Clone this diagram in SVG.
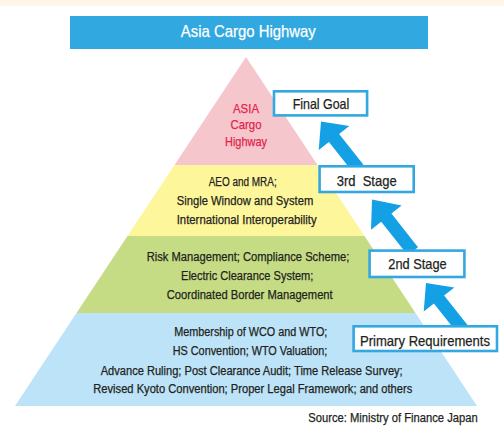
<svg xmlns="http://www.w3.org/2000/svg" width="504" height="432" viewBox="0 0 504 432">
  <style>
    .t { font-family: "Liberation Sans Narrow", "Liberation Sans", Arial, sans-serif; text-anchor: middle; fill: #231f20; stroke: #231f20; stroke-width: 0.25; }
    .band { font-size: 12.5px; }
    .base { font-size: 12px; }
    .goal { font-size: 13px; fill: #e4234b; stroke: #e4234b; }
    .lbl { font-size: 14.5px; }
    .white { fill: #ffffff; stroke: #ffffff; }
    .box { fill: #ffffff; stroke: #33a8e0; stroke-width: 2.6; }
    .arrow { fill: #14a0e4; }
  </style>
  <defs>
    <!-- block arrow pointing up, tip at origin -->
    <polygon id="blockArrow" points="0,0 19.5,21 6.5,21 6.5,60 -6.5,60 -6.5,21 -19.5,21"/>
  </defs>

  <rect x="0" y="0" width="504" height="5.7" fill="#fff5e7"/>

  <g id="title">
    <rect x="70" y="16" width="358" height="33" fill="#31a8e0"/>
    <text class="t white" x="248.3" y="37.3" font-size="17" textLength="135" lengthAdjust="spacingAndGlyphs">Asia Cargo Highway</text>
  </g>

  <g id="pyramid">
    <g id="level-goal">
      <polygon points="246,57 174.5,165 317.5,165" fill="#f5c7cd"/>
      <text class="t goal" x="246" y="112.7" textLength="26" lengthAdjust="spacingAndGlyphs">ASIA</text>
      <text class="t goal" x="246" y="129.2" textLength="31" lengthAdjust="spacingAndGlyphs">Cargo</text>
      <text class="t goal" x="246" y="145.7" textLength="42" lengthAdjust="spacingAndGlyphs">Highway</text>
    </g>
    <g id="level-third">
      <polygon points="174.5,165 317.5,165 364.5,236 127.5,236" fill="#fef69b"/>
      <text class="t band" x="242.7" y="186.3" textLength="68" lengthAdjust="spacingAndGlyphs">AEO and MRA;</text>
      <text class="t band" x="245" y="205" textLength="136.6" lengthAdjust="spacingAndGlyphs">Single Window and System</text>
      <text class="t band" x="246.7" y="223.5" textLength="140" lengthAdjust="spacingAndGlyphs">International Interoperability</text>
    </g>
    <g id="level-second">
      <polygon points="127.5,236 364.5,236 415.5,313 76.5,313" fill="#c5dc84"/>
      <text class="t band" x="248" y="260.7" textLength="202.6" lengthAdjust="spacingAndGlyphs">Risk Management; Compliance Scheme;</text>
      <text class="t band" x="247.2" y="279.8" textLength="132.3" lengthAdjust="spacingAndGlyphs">Electric Clearance System;</text>
      <text class="t band" x="249.7" y="299.2" textLength="166" lengthAdjust="spacingAndGlyphs">Coordinated Border Management</text>
    </g>
    <g id="level-primary">
      <polygon points="76.5,313 415.5,313 477,406 15,406" fill="#bce3f8"/>
      <text class="t base" x="250.8" y="335.7" textLength="153" lengthAdjust="spacingAndGlyphs">Membership of WCO and WTO;</text>
      <text class="t base" x="250" y="355" textLength="154.6" lengthAdjust="spacingAndGlyphs">HS Convention; WTO Valuation;</text>
      <text class="t base" x="251.7" y="374.8" textLength="302" lengthAdjust="spacingAndGlyphs">Advance Ruling; Post Clearance Audit; Time Release Survey;</text>
      <text class="t base" x="252.8" y="393.3" textLength="319" lengthAdjust="spacingAndGlyphs">Revised Kyoto Convention; Proper Legal Framework; and others</text>
    </g>
  </g>

  <g id="connectors">
    <use href="#blockArrow" class="arrow" transform="translate(321,121.5) rotate(-38.3)"/>
    <use href="#blockArrow" class="arrow" transform="translate(372,199.5) rotate(-38.3) scale(1,1.1)"/>
    <use href="#blockArrow" class="arrow" transform="translate(426,283) rotate(-38.3)"/>
  </g>

  <g id="final-goal">
    <rect class="box" x="274" y="91.3" width="93.1" height="24.1"/>
    <text class="t lbl" x="321" y="109.3" textLength="56.6" lengthAdjust="spacingAndGlyphs">Final Goal</text>
  </g>
  <g id="third-stage">
    <rect class="box" x="319.6" y="166.3" width="94.1" height="25.7"/>
    <text class="t lbl" x="366.7" y="186" textLength="60" lengthAdjust="spacingAndGlyphs" xml:space="preserve">3rd  Stage</text>
  </g>
  <g id="second-stage">
    <rect class="box" x="369.6" y="250.6" width="94.8" height="26.4"/>
    <text class="t lbl" x="417.5" y="269.3" textLength="58.4" lengthAdjust="spacingAndGlyphs">2nd Stage</text>
  </g>
  <g id="primary-requirements">
    <rect class="box" x="353.6" y="326.3" width="143.4" height="24.7"/>
    <text class="t lbl" x="425" y="345.7" textLength="130" lengthAdjust="spacingAndGlyphs">Primary Requirements</text>
  </g>

  <text class="t" x="477.7" y="422.3" font-size="12.5" style="text-anchor:end" textLength="169.4" lengthAdjust="spacingAndGlyphs">Source: Ministry of Finance Japan</text>
</svg>
